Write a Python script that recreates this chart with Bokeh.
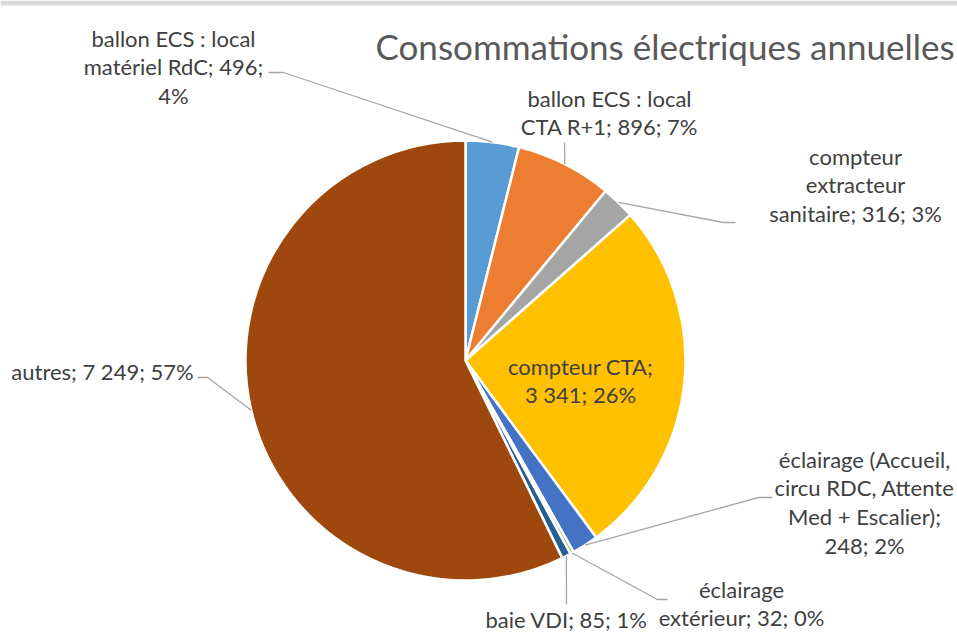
import math
from bokeh.plotting import figure
from bokeh.models import Range1d, BoxAnnotation
from bokeh.core.properties import value
from bokeh.embed import file_html
from bokeh.resources import INLINE

# ---- data ----
categories = [
    "ballon ECS : local matériel RdC",
    "ballon ECS : local CTA R+1",
    "compteur extracteur sanitaire",
    "compteur CTA",
    "éclairage (Accueil, circu RDC, Attente Med + Escalier)",
    "éclairage extérieur",
    "baie VDI",
    "autres",
]
values = [496, 896, 316, 3341, 248, 32, 85, 7249]
value_texts = ["496", "896", "316", "3 341", "248", "32", "85", "7 249"]
percent_texts = ["4%", "7%", "3%", "26%", "2%", "0%", "1%", "57%"]
colors = ["#5B9BD5", "#ED7D31", "#A5A5A5", "#FFC000",
          "#4472C4", "#70AD47", "#255E91", "#9E480E"]
label_lines = [
    ["ballon ECS : local", "matériel RdC; 496;", "4%"],
    ["ballon ECS : local", "CTA R+1; 896; 7%"],
    ["compteur", "extracteur", "sanitaire; 316; 3%"],
    ["compteur CTA;", "3 341; 26%"],
    ["éclairage (Accueil,", "circu RDC, Attente", "Med + Escalier);", "248; 2%"],
    ["éclairage", "extérieur; 32; 0%"],
    ["baie VDI; 85; 1%"],
    ["autres; 7 249; 57%"],
]
title_text = "Consommations électriques annuelles"

# ---- layout (page pixel coordinates) ----
W, H = 957, 641
def Y(y_img):
    return H - y_img

CX, CY, R = 465, 360, 220
FONT = "Lato"
LABEL_SIZE = "22px"
LINE_H = 28.7
LABEL_SHIFT = -9.5   # compensates baseline placement of the renderer
TITLE_SHIFT = -15
# label anchor: (center x, first baseline y)
label_pos = [(173, 47), (609, 107), (855, 165), (580, 375),
             (864, 468), (741, 598), (566, 628), (102, 380)]
# leader: label-side points (image coords); None = no leader
leader_pts = [
    [(268, 72), (283, 72)],
    [(564, 142)],
    [(735, 222), (723, 222)],
    None,
    [(772, 497), (758, 497)],
    [(667, 599), (657, 599)],
    [(566, 604)],
    [(197, 377), (207, 377)],
]

p = figure(width=W, height=H, output_backend="svg", toolbar_location=None,
           x_range=Range1d(0, W), y_range=Range1d(0, H),
           min_border=0)
p.axis.visible = False
p.grid.visible = False
p.outline_line_color = None
p.background_fill_color = "white"

# thin grey band at the very top
p.add_layout(BoxAnnotation(bottom=Y(5), top=H, fill_color="#D9D9D9",
                           fill_alpha=1.0, line_color=None))

total = float(sum(values))
cum = 0.0
starts, ends, mids = [], [], []
for v in values:
    a0 = cum / total
    cum += v
    a1 = cum / total
    starts.append(math.pi / 2 - 2 * math.pi * a0)
    ends.append(math.pi / 2 - 2 * math.pi * a1)
    mids.append(2 * math.pi * (a0 + a1) / 2)

p.wedge(x=[CX] * len(values), y=[Y(CY)] * len(values), radius=R,
        start_angle=starts, end_angle=ends, direction="clock",
        fill_color=colors, line_color="white", line_width=2.5)

# leader lines
for i, pts in enumerate(leader_pts):
    if pts is None:
        continue
    t = mids[i]
    ex = CX + R * math.sin(t)
    ey = CY - R * math.cos(t)
    xs = [q[0] for q in pts] + [ex]
    ys = [Y(q[1]) for q in pts] + [Y(ey)]
    p.line(xs, ys, line_color="#A6A6A6", line_width=1.3)

# labels
tx, ty, tt = [], [], []
for i, lines in enumerate(label_lines):
    x0, y0 = label_pos[i]
    for k, s in enumerate(lines):
        tx.append(x0)
        ty.append(Y(y0 + k * LINE_H + LABEL_SHIFT))
        tt.append(s)
p.text(x=tx, y=ty, text=tt, text_align="center", text_baseline="alphabetic",
       text_font=value(FONT), text_font_size=value(LABEL_SIZE),
       text_color="#404040")

# title
p.text(x=[375], y=[Y(60 + TITLE_SHIFT)], text=[title_text], text_align="left",
       text_baseline="alphabetic", text_font=value(FONT),
       text_font_size=value("35px"), text_color="#595959")

open("out.html", "w").write(file_html(p, INLINE))
